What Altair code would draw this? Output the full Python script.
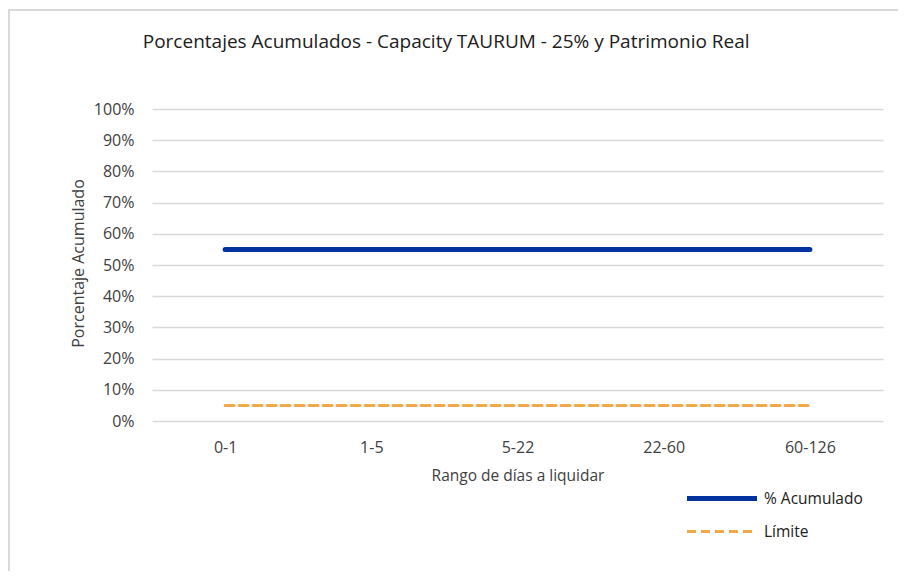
import altair as alt
import pandas as pd

categorias = ["0-1", "1-5", "5-22", "22-60", "60-126"]
acumulado = [0.55, 0.55, 0.55, 0.55, 0.55]
limite = [0.05, 0.05, 0.05, 0.05, 0.05]
series = ["% Acumulado", "Límite"]
y_ticks = [0, 0.1, 0.2, 0.3, 0.4, 0.5, 0.6, 0.7, 0.8, 0.9, 1.0]

rows = []
for c, a, l in zip(categorias, acumulado, limite):
    rows.append({"rango": c, "valor": a, "serie": series[0]})
    rows.append({"rango": c, "valor": l, "serie": series[1]})
df = pd.DataFrame(rows)

FONT = "Open Sans"
TXT = "#404040"
W, H = 731, 312


def leg():
    return alt.Legend(title=None, orient="none", legendX=555.5, legendY=375,
                      symbolType="M-3,0H3", symbolSize=545,
                      rowPadding=9, labelOffset=27.5,
                      labelFontSize=15.5, labelColor="#202020", labelFont=FONT)


lines = alt.Chart(df).mark_line(strokeCap="round").encode(
    x=alt.X("rango:N", sort=categorias,
            scale=alt.Scale(type="point", padding=0.5),
            axis=alt.Axis(title="Rango de días a liquidar", labelAngle=0,
                          ticks=False, domain=False, labelPadding=18,
                          titleY=54, titleBaseline="middle",
                          labelFontSize=16, titleFontSize=15.5, labelColor=TXT,
                          titleColor=TXT, titleFontWeight="normal", grid=False)),
    y=alt.Y("valor:Q", scale=alt.Scale(domain=[0, 1]),
            axis=alt.Axis(title="Porcentaje Acumulado", values=y_ticks, format=".0%",
                          ticks=False, domain=False, labelPadding=18,
                          titleX=-74, titleY=H / 2 - 2, titleBaseline="middle",
                          titleAlign="center",
                          labelFontSize=16, titleFontSize=16, labelColor=TXT,
                          titleColor=TXT, titleFontWeight="normal",
                          gridColor="#d9d9d9", gridWidth=1.5)),
    color=alt.Color("serie:N", scale=alt.Scale(domain=series, range=["#0033a0", "#f0a848"]),
                    legend=leg()),
    strokeDash=alt.StrokeDash("serie:N", scale=alt.Scale(domain=series, range=[[1, 0], [9, 5]]),
                              legend=leg()),
    strokeWidth=alt.StrokeWidth("serie:N", scale=alt.Scale(domain=series, range=[5, 3]),
                                legend=leg()),
)

border_left = alt.Chart(df).mark_rule(color="#d9d9d9", strokeWidth=1.5).encode(
    x=alt.value(-143.5), y=alt.value(-99), y2=alt.value(H + 160))
border_top = alt.Chart(df).mark_rule(color="#d9d9d9", strokeWidth=1.5).encode(
    x=alt.value(-143.5), x2=alt.value(W + 30), y=alt.value(-99))

chart = alt.layer(border_left, border_top, lines).properties(
    width=W, height=H,
    title=alt.TitleParams("Porcentajes Acumulados - Capacity TAURUM - 25% y Patrimonio Real",
                          anchor="start", dx=135, offset=0, dy=43, fontSize=19,
                          fontWeight="normal", color="#202020", font=FONT),
    autosize=alt.AutoSizeParams(type="none"),
    padding={"left": 144, "top": 101, "right": 906 - 16 - 144 - W, "bottom": 563 - 101 - H},
).configure(font=FONT).configure_view(stroke=None).configure_axis(labelFont=FONT, titleFont=FONT)

chart.save("out.html", embed_options={"renderer": "svg", "actions": False})
